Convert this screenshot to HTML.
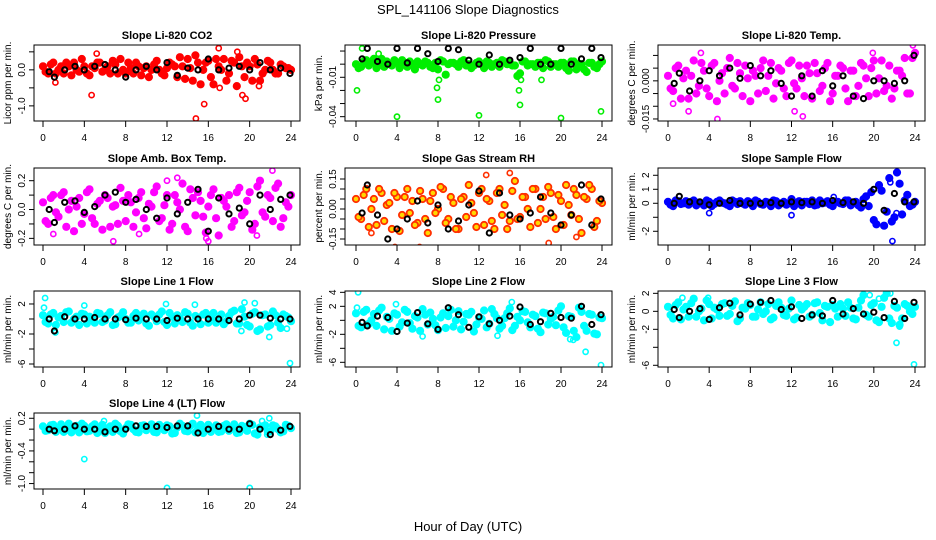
<!DOCTYPE html>
<html><head><meta charset="utf-8">
<style>
html,body{margin:0;padding:0;background:#fff;}
svg{display:block;font-family:"Liberation Sans",sans-serif;}
</style></head>
<body>
<svg id="chart" width="936" height="540" viewBox="0 0 936 540" xmlns="http://www.w3.org/2000/svg">
<rect width="936" height="540" fill="#fff"/>
<text x="468" y="14" font-size="13" text-anchor="middle">SPL_141106  Slope Diagnostics</text>
<text x="468" y="531" font-size="13" text-anchor="middle">Hour of Day (UTC)</text>
</svg>
<script>
const xTicks = [0,4,8,12,16,20,24];
const blackHours = [0.6,1.1,2.1,3.1,4.0,5.0,6.0,7.0,8.0,9.0,10.0,11.0,12.0,13.0,14.0,15.0,16.0,17.0,18.0,19.0,20.0,21.0,22.0,23.0,23.9];

const co2A = [0.1,-0.1,0.2,0.0,-0.1,0.1,0.2,-0.05,0.1,-0.15,0.05,0.2,0.0,-0.1,0.15,0.3,-0.1,0.05,0.2,-0.15,0.1,0.0,0.25,-0.1,0.05,0.15,-0.2,0.1,0.3,-0.3,0.2,0.0,0.25,-0.4,0.1,0.3,-0.1,0.2,0.35,-0.2,0.1,0.3,-0.3,0.0,0.2,-0.1,0.15,0.05,0.0];
const co2B = [-0.05,0.15,-0.1,0.1,0.2,-0.15,0.0,0.3,-0.1,0.1,0.2,-0.05,0.1,0.25,-0.1,0.0,0.2,-0.1,0.1,0.05,-0.2,0.15,0.0,-0.15,0.2,0.1,0.35,-0.25,0.05,0.4,-0.4,0.2,-0.2,0.3,0.0,-0.3,0.25,-0.45,0.1,0.2,-0.3,0.15,-0.1,0.25,0.0,-0.1,0.1,0.05];
const co2Out = [[4.7,-0.7],[14.8,-1.35],[15.6,-0.95],[19.3,-0.7],[19.6,-0.8],[17.0,0.6],[5.2,0.45],[18.8,0.5],[1.2,-0.35],[20.9,-0.45],[17.1,-0.5]];
const co2K = [-0.05,-0.2,0.0,0.1,0.0,0.1,0.15,0.0,-0.2,0.0,0.1,0.0,0.2,-0.15,0.05,0.0,0.3,0.0,0.05,0.1,0.0,0.2,0.0,0.05,-0.1];

const presA = [0,-0.002,0.003,0.001,-0.003,0.004,0.002,-0.001,0.001,0.003,-0.002,0,0.002,-0.001,0.001,-0.003,-0.004,0.002,0,0.001,-0.002,0.003,0,-0.001,0.002,-0.003,0.001,0,-0.002,0.002,0.001,-0.001,-0.007,0.002,0,-0.002,0.001,0.003,-0.002,0,0.001,-0.003,0.002,-0.004,0,-0.006,0.001,-0.003,0.002];
const presB = [-0.003,0.002,-0.001,0.004,0.001,-0.002,0,0.003,-0.003,0.001,0.002,-0.004,0,0.002,-0.002,0.001,0.003,-0.008,0.001,0,0.002,-0.001,-0.003,0.001,0,0.002,-0.002,0.001,0.003,0,-0.001,-0.009,0.002,-0.001,0,0.001,-0.003,0.002,0,-0.002,0.001,-0.005,0.002,0,-0.004,0.001,-0.002,0];
const presOut = [[0.1,-0.02],[4.0,-0.04],[7.9,-0.018],[8.0,-0.027],[8.1,-0.012],[12.0,-0.039],[15.9,-0.02],[16.0,-0.031],[16.1,-0.012],[18.1,-0.012],[20.0,-0.041],[23.9,-0.036],[0.6,0.012],[2.2,0.008]];
const presK = [0.004,0.012,0.002,0,0.012,0.001,0.012,0.008,0.002,0.012,0.011,0.003,0,0.007,0,0.003,0.005,0.012,0.0,0.0,0.012,0.0,0.004,0.012,0.005];

const tempA = [0.002,-0.004,0.006,0.001,-0.007,0.008,-0.002,0.004,-0.006,0.007,0.0,-0.005,0.009,-0.003,0.003,0.006,-0.008,0.002,0.005,-0.004,0.007,-0.001,0.004,-0.006,0.008,-0.003,0.001,0.006,-0.007,0.003,-0.002,0.007,-0.005,0.002,0.005,-0.008,0.004,-0.002,0.006,-0.006,0.008,0.001,-0.004,0.006,-0.003,0.004,0.009,-0.005,0.011];
const tempB = [-0.003,0.005,-0.007,0.004,0.002,-0.005,0.007,-0.003,0.006,-0.008,0.003,0.005,-0.002,0.007,-0.006,0.001,0.004,-0.005,0.008,0.002,-0.007,0.005,-0.003,0.007,-0.001,0.006,-0.006,0.003,0.007,-0.004,0.005,-0.008,0.002,0.006,-0.003,0.004,-0.006,0.007,0.001,0.005,-0.005,0.008,-0.002,-0.007,0.004,0.002,-0.005,0.009];
const tempOut = [[2.0,-0.012],[4.8,-0.015],[12.3,-0.012],[13.1,-0.014],[3.2,0.011],[19.9,0.011],[23.8,0.014],[0.5,-0.009]];
const tempK = [-0.001,0.003,-0.004,0.0,0.004,0.002,0.005,0.001,0.006,0.002,0.004,-0.001,-0.006,0.002,-0.006,0.004,-0.002,0.002,-0.006,-0.007,0.000,0.000,-0.001,0.0,0.010];

const ambA = [0.05,-0.1,0.1,-0.05,0.12,0.0,-0.15,0.08,-0.03,0.14,-0.1,0.06,0.1,-0.12,0.03,0.15,-0.08,0.05,-0.02,0.12,-0.13,0.02,0.16,-0.06,0.1,-0.1,0.05,0.18,-0.15,0.08,0.12,-0.05,0.02,0.14,-0.18,0.06,0.1,-0.08,0.15,-0.02,0.12,-0.1,0.2,-0.05,0.08,0.15,-0.12,0.05,0.1];
const ambB = [-0.08,0.08,-0.02,0.1,-0.12,0.06,0.02,-0.1,0.12,-0.06,0.04,-0.14,0.08,0.02,-0.1,0.06,0.1,-0.12,0.08,-0.06,0.04,0.12,-0.08,0.03,-0.14,0.1,0.0,-0.12,0.14,-0.04,0.06,-0.16,0.1,-0.06,0.08,0.02,-0.12,0.12,-0.04,0.06,-0.14,0.16,-0.02,0.1,-0.08,0.18,-0.06,0.02];
const ambOut = [[6.8,-0.22],[13.0,0.22],[12.0,0.2],[22.2,0.27],[15.8,-0.2],[16.0,-0.22],[20.7,-0.18],[1.0,-0.17],[9.3,-0.17]];
const ambK = [0,-0.09,0.05,0.06,-0.02,0.02,0.1,0.12,0.05,0.07,0.0,-0.06,0.08,-0.03,0.05,0.14,-0.15,0.08,-0.03,0.01,-0.1,0.1,0.0,0.07,0.1];

const rhA = [0.05,-0.05,0.1,0.0,-0.08,0.08,0.02,-0.1,0.06,-0.03,0.1,0.04,-0.07,0.05,-0.12,0.08,0.0,0.1,-0.05,0.03,-0.1,0.06,0.12,-0.02,0.08,-0.08,0.04,-0.1,0.1,0.02,-0.06,0.14,-0.04,0.06,-0.09,0.1,0.0,-0.05,0.08,-0.1,0.04,0.12,-0.03,0.07,-0.12,0.05,0.1,-0.06,0.03];
const rhB = [-0.04,0.07,-0.09,0.05,0.1,-0.06,0.03,0.08,-0.11,0.06,-0.02,-0.08,0.09,-0.05,0.04,-0.02,0.11,-0.07,0.06,-0.1,0.05,-0.04,0.03,-0.09,0.1,0.05,-0.06,0.08,-0.03,-0.1,0.09,-0.05,0.06,0.0,0.1,-0.07,0.06,0.11,-0.04,0.07,-0.08,0.02,0.1,-0.05,0.06,0.12,-0.09,0.04];
const rhOut = [[3.8,-0.19],[6.2,-0.19],[15.0,0.18],[18.8,-0.17],[12.7,0.17],[21.5,-0.14],[1.5,-0.12]];
const rhK = [-0.02,0.12,-0.03,-0.15,-0.1,-0.05,0.04,-0.07,0.02,-0.1,-0.06,0.02,0.09,-0.12,0.08,-0.03,-0.05,-0.02,0.06,-0.02,-0.08,-0.03,0.12,-0.08,0.05];

const sfA = [0.1,-0.2,0.15,0.0,-0.1,0.2,0.05,-0.15,0.1,-0.05,0.2,0.0,-0.2,0.1,0.15,-0.1,0.05,0.2,-0.05,0.1,-0.2,0.15,0.0,-0.1,0.3,0.05,-0.15,0.1,0.2,-0.1,0.0,0.15,-0.2,0.1,-0.05,0.2,0.05,-0.15,0.3,-0.2,-1.2,1.3,-1.6,1.8,-1.0,1.4,0.2,-0.2,0.1];
const sfB = [-0.1,0.2,-0.05,0.15,0.1,-0.15,0.0,0.2,-0.2,0.1,0.05,-0.1,0.2,-0.05,0.0,0.15,-0.2,0.1,-0.1,0.05,0.2,-0.15,0.1,0.0,-0.2,0.15,0.1,-0.05,-0.15,0.2,0.05,-0.1,0.1,0.0,0.2,-0.15,0.1,-0.3,0.5,0.8,-1.5,0.9,-0.6,-1.3,2.2,-0.8,0.6,-0.1];
const sfOut = [[4.0,-0.7],[12.0,-0.85],[21.8,-2.7],[20.3,-1.5],[22.2,-0.7],[21.6,1.5],[16.1,0.45]];
const sfK = [0.0,0.5,0.1,0.1,-0.1,0.0,0.2,0.0,0.0,0.0,0.05,0.0,0.1,0.05,0.1,0.0,0.2,0.05,0.1,0.0,1.0,-0.5,0.7,0.1,0.1];

const l1A = [0.5,-0.6,0.8,0.2,-0.4,1.0,0.0,-0.8,0.6,0.3,-0.5,0.7,-0.2,0.9,-0.7,0.4,0.0,-0.5,0.8,0.2,-0.6,0.6,-0.3,1.0,-0.8,0.3,0.5,-0.4,0.7,-0.9,0.2,0.6,-0.5,0.8,0.0,-0.7,0.4,1.1,-0.6,0.3,-1.0,0.9,-1.4,0.6,-0.8,0.5,-1.2,0.4,-0.3];
const l1B = [-0.4,0.6,-0.8,0.4,0.9,-0.5,0.3,0.7,-0.6,0.1,0.8,-0.4,0.5,-0.8,0.2,0.9,-0.5,0.4,-0.2,0.7,-0.9,0.3,0.6,-0.4,0.8,-0.6,0.1,0.9,-0.5,0.4,-0.7,0.8,0.2,-0.5,0.6,-0.3,0.9,-0.6,1.3,-0.8,0.7,-1.6,0.5,-1.0,1.0,-0.5,0.6,0.2];
const l1Out = [[0.2,2.8],[0.1,1.5],[1.2,-1.8],[4.0,1.8],[11.9,2.0],[14.7,1.9],[19.5,2.2],[20.5,2.1],[21.9,-2.4],[23.9,-5.9],[19.2,-1.6],[23.6,-1.3]];
const l1K = [0.0,-1.6,0.3,0.0,0.0,0.2,0.0,0.0,-0.1,0.1,0.0,0.0,-0.2,0.1,0.0,0.0,0.0,0.0,-0.2,0.0,0.5,0.5,0.1,0.0,0.0];

const l2A = [1.0,-1.0,1.5,0.0,-0.8,1.8,0.5,-1.5,0.8,-0.3,1.2,-1.2,0.4,1.6,-0.6,0.2,-1.4,1.0,0.6,-0.9,1.3,-0.2,0.8,-1.6,0.4,1.4,-0.5,0.9,-1.2,0.3,1.7,-0.8,0.0,1.2,-1.0,0.6,-1.7,1.0,0.2,-0.7,2.0,-1.8,0.5,-2.4,1.2,-1.5,0.8,-2.0,0.3];
const l2B = [-0.8,1.2,-0.5,0.9,1.4,-1.3,0.2,1.0,-0.9,1.5,-0.4,0.6,-1.5,0.8,1.1,-0.7,0.4,-1.1,1.5,0.0,-1.3,0.9,1.2,-0.6,0.2,-1.0,1.6,0.3,-0.8,1.0,-1.4,0.5,1.3,-0.3,0.8,-1.2,1.1,-0.6,0.5,1.4,-1.0,0.6,-1.5,1.8,-0.8,0.9,-1.9,0.4];
const l2Out = [[0.2,4.0],[0.1,1.8],[3.9,2.3],[6.5,-2.3],[15.2,2.6],[20.9,-2.7],[22.4,-4.5],[23.9,-6.4],[21.2,-2.8],[13.8,-2.2]];
const l2K = [-0.3,-0.8,0.6,0.4,-1.6,-0.4,1.1,-0.5,-1.3,1.8,0.8,-1.0,0.5,-0.5,0.0,0.6,1.9,-0.6,-0.2,1.0,0.4,0.3,2.0,-0.6,0.8];

const l3A = [0.5,-0.8,1.0,0.2,-0.6,1.4,0.0,-1.0,0.8,0.4,-0.5,0.9,-0.3,1.1,-0.8,0.3,0.7,-0.6,1.0,0.0,-0.9,0.6,0.4,-0.5,1.2,-0.7,0.2,0.8,-0.4,1.0,-1.0,0.5,0.7,-0.6,0.3,1.0,-0.8,0.4,1.8,-0.6,0.9,-1.2,1.5,-0.8,0.6,-1.5,0.8,0.0,0.5];
const l3B = [-0.4,0.7,-0.9,0.5,0.9,-0.6,0.3,1.2,-0.8,0.2,0.8,-0.5,0.6,-1.1,0.4,0.9,-0.6,0.2,-0.3,0.8,-0.7,1.0,-0.4,0.3,-0.9,0.7,0.5,-0.6,0.9,-0.2,0.6,-1.2,0.3,0.8,-0.5,0.4,-0.9,1.2,-0.4,0.7,-1.0,0.5,2.0,-1.3,0.4,-0.8,0.6,-0.3];
const l3Out = [[1.4,1.5],[3.9,1.5],[19.6,1.8],[21.6,2.0],[22.2,-3.5],[23.9,-5.9],[22.5,-1.7],[20.5,1.4]];
const l3K = [0.2,-0.7,0.0,0.3,-0.9,0.4,0.9,-0.4,0.8,1.0,1.2,0.2,0.5,-0.8,-0.4,-0.5,1.2,-0.3,0.3,-0.3,-0.1,-0.7,1.1,-0.8,1.0];

const l4A = [0.05,-0.02,0.08,0.0,-0.05,0.1,0.03,-0.06,0.06,-0.03,0.09,0.01,-0.07,0.05,0.1,-0.04,0.02,0.08,-0.05,0.06,-0.02,0.09,-0.06,0.04,0.07,-0.08,0.03,0.06,-0.04,0.1,0.0,-0.07,0.08,0.02,-0.05,0.06,-0.03,0.09,-0.06,0.04,0.1,-0.08,0.03,0.07,-0.04,0.05,-0.06,0.08,0.02];
const l4B = [-0.03,0.07,-0.05,0.09,0.02,-0.06,0.06,0.1,-0.04,0.05,-0.07,0.08,0.01,-0.05,0.06,-0.08,0.09,0.0,-0.06,0.07,0.03,-0.05,0.08,-0.02,0.05,-0.07,0.1,-0.03,0.06,-0.06,0.08,0.02,-0.05,0.07,-0.04,0.09,0.01,-0.07,0.06,-0.03,0.08,-0.1,0.05,-0.05,0.07,0.0,-0.04,0.06];
const l4Out = [[4.0,-0.55],[12.0,-1.08],[20.0,-1.08],[14.9,0.25],[5.9,0.15],[21.9,0.2],[21.2,0.15],[21.7,-0.1]];
const l4K = [0.0,-0.03,0.0,0.06,0.0,0.0,-0.05,0.0,0.0,0.06,0.05,0.05,0.03,0.06,0.06,-0.07,0.0,0.05,0.0,0.0,0.1,0.0,-0.1,-0.02,0.05];

const panels = [
 {name:'co2',title:'Slope Li-820 CO2',ylab:'Licor ppm per min.',col:0,row:0,color:'#ff0000',fill:'#ff0000',dom:[-1.42,0.69],ticks:[0.5,0,-0.5,-1.0],labels:['','0.0','','-1.0'],a:co2A,b:co2B,o:co2Out,k:co2K},
 {name:'pressure',title:'Slope Li-820 Pressure',ylab:'kPa per min.',col:1,row:0,color:'#00ee00',fill:'#00ee00',dom:[-0.0433,0.0146],ticks:[0.01,0,-0.01,-0.02,-0.03,-0.04],labels:['','','-0.01','','','-0.04'],a:presA,b:presB,o:presOut,k:presK},
 {name:'temp',title:'Slope Li-820 Temp.',ylab:'degrees C per min.',col:2,row:0,color:'#ff00ff',fill:'#ff00ff',dom:[-0.0158,0.0141],ticks:[0.01,0.005,0,-0.005,-0.01,-0.015],labels:['','','0.000','','','-0.015'],a:tempA,b:tempB,o:tempOut,k:tempK},
 {name:'amb-box-temp',title:'Slope Amb. Box Temp.',ylab:'degrees C per min.',col:0,row:1,color:'#ff00ff',fill:'#ff00ff',dom:[-0.246,0.288],ticks:[0.2,0.1,0,-0.1,-0.2],labels:['0.2','','0.0','','-0.2'],a:ambA,b:ambB,o:ambOut,k:ambK},
 {name:'gas-stream-rh',title:'Slope Gas Stream RH',ylab:'percent per min.',col:1,row:1,color:'#ff3000',fill:'#ffd800',dom:[-0.18,0.205],ticks:[0.15,0.1,0.05,0,-0.05,-0.1,-0.15],labels:['0.15','','','0.00','','','-0.15'],a:rhA,b:rhB,o:rhOut,k:rhK},
 {name:'sample-flow',title:'Slope Sample Flow',ylab:'ml/min per min.',col:2,row:1,color:'#0000ff',fill:'#0000ff',dom:[-2.98,2.52],ticks:[2,1,0,-1,-2],labels:['2','1','0','','-2'],a:sfA,b:sfB,o:sfOut,k:sfK},
 {name:'line1-flow',title:'Slope Line 1 Flow',ylab:'ml/min per min.',col:0,row:2,color:'#00ffff',fill:'#00ffff',dom:[-6.4,3.73],ticks:[2,0,-2,-4,-6],labels:['2','','-2','','-6'],a:l1A,b:l1B,o:l1Out,k:l1K},
 {name:'line2-flow',title:'Slope Line 2 Flow',ylab:'ml/min per min.',col:1,row:2,color:'#00ffff',fill:'#00ffff',dom:[-6.67,4.19],ticks:[4,2,0,-2,-4,-6],labels:['4','2','','-2','','-6'],a:l2A,b:l2B,o:l2Out,k:l2K},
 {name:'line3-flow',title:'Slope Line 3 Flow',ylab:'ml/min per min.',col:2,row:2,color:'#00ffff',fill:'#00ffff',dom:[-6.19,2.26],ticks:[2,0,-2,-4,-6],labels:['2','0','-2','','-6'],a:l3A,b:l3B,o:l3Out,k:l3K},
 {name:'line4-flow',title:'Slope Line 4 (LT) Flow',ylab:'ml/min per min.',col:0,row:3,color:'#00ffff',fill:'#00ffff',dom:[-1.10,0.297],ticks:[0.2,0,-0.2,-0.4,-0.6,-0.8,-1.0],labels:['0.2','','','-0.4','','','-1.0'],a:l4A,b:l4B,o:l4Out,k:l4K}
];

const NS='http://www.w3.org/2000/svg';
const svg=document.getElementById('chart');
const colBox=[[34,300,43,291],[345,612,356,602],[658,925,668,915]];
const rowBox=[[45,121],[168,245],[291,367],[413,489]];
function mk(tag,attrs,parent){const e=document.createElementNS(NS,tag);for(const k in attrs)e.setAttribute(k,attrs[k]);parent.appendChild(e);return e;}

panels.forEach(p=>{
  const [bx0,bx1,px0,px24]=colBox[p.col];
  const [by0,by1]=rowBox[p.row];
  const sx=v=>px0+(v/24)*(px24-px0);
  const sy=v=>by1-(v-p.dom[0])/(p.dom[1]-p.dom[0])*(by1-by0);
  const g=mk('g',{},svg);
  
  
  const t=mk('text',{x:(bx0+bx1)/2,y:by0-6,'font-size':11,'font-weight':'bold','text-anchor':'middle'},g);
  t.textContent=p.title;
  
  
  const clip='clip-'+p.name;
  const cp=mk('clipPath',{id:clip},g);
  mk('rect',{x:bx0,y:by0,width:bx1-bx0,height:by1-by0},cp);
  const pts=mk('g',{'clip-path':'url(#'+clip+')'},g);
  
  
  const dot=(x,y,c,f,w,r)=>{const e=mk('circle',{cx:sx(x).toFixed(1),cy:sy(y).toFixed(1),r:r,stroke:c,fill:f,'stroke-width':w},pts);
    
    };
  p.a.forEach((v,i)=>dot(i*0.5,v,p.color,p.fill,1.8,3.2));
  p.b.forEach((v,i)=>dot(i*0.5+0.25,v,p.color,p.fill,1.8,3.2));
  p.o.forEach(q=>dot(q[0],q[1],p.color,'none',1.6,2.6));
  p.k.forEach((v,i)=>dot(blackHours[i],v,'#000','none',2,2.6));
  const box=mk('rect',{x:bx0,y:by0,width:bx1-bx0,height:by1-by0,fill:'none',stroke:'#000','stroke-width':1},g);
  
  
  const xa=mk('g',{},g);
  
  
  mk('line',{x1:sx(0),x2:sx(24),y1:by1,y2:by1,stroke:'#000'},xa);
  xTicks.forEach(v=>{
    mk('line',{x1:sx(v),x2:sx(v),y1:by1,y2:by1+6,stroke:'#000'},xa);
    const tl=mk('text',{x:sx(v),y:by1+20,'font-size':10,'text-anchor':'middle'},xa);
    tl.textContent=v;
    
    
  });
  const ya=mk('g',{},g);
  
  
  mk('line',{x1:bx0,x2:bx0,y1:sy(p.ticks[0]),y2:sy(p.ticks[p.ticks.length-1]),stroke:'#000'},ya);
  p.ticks.forEach((v,i)=>{
    const y=sy(v);
    mk('line',{x1:bx0-5,x2:bx0,y1:y,y2:y,stroke:'#000'},ya);
    if(p.labels[i]){
      const tl=mk('text',{x:bx0-9,y:y,'font-size':10,'text-anchor':'middle',transform:'rotate(-90 '+(bx0-9)+' '+y+')'},ya);
      tl.textContent=p.labels[i];
      
      
    }
  });
  const cy=(by0+by1)/2, lx=bx0-23;
  const yl=mk('text',{x:lx,y:cy,'font-size':10,'text-anchor':'middle',transform:'rotate(-90 '+lx+' '+cy+')'},g);
  yl.textContent=p.ylab;
  
  
});
</script>
</body></html>
